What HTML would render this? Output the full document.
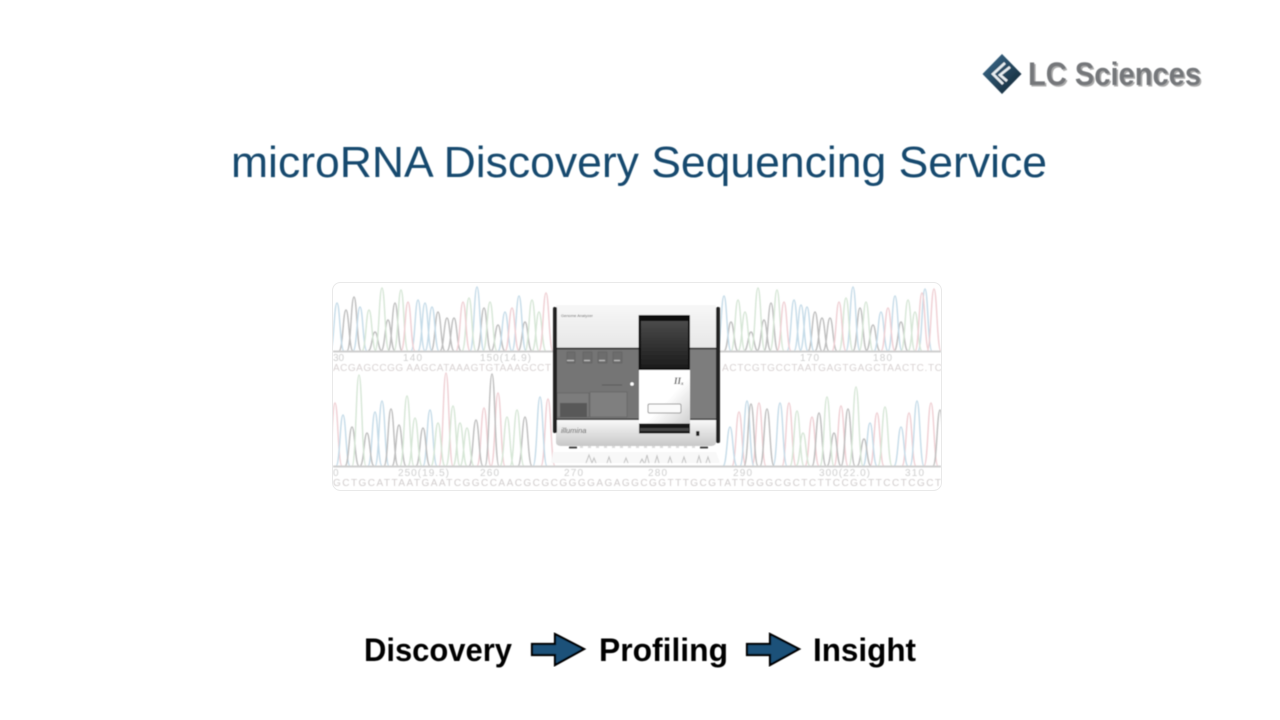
<!DOCTYPE html>
<html><head><meta charset="utf-8"><style>
html,body{margin:0;padding:0;background:#fff;width:1280px;height:720px;overflow:hidden}
svg{display:block}
text{font-family:"Liberation Sans",sans-serif}
</style></head><body>
<svg width="1280" height="720" viewBox="0 0 1280 720" xmlns="http://www.w3.org/2000/svg">
<defs>
<filter id="b" x="-5%" y="-5%" width="110%" height="110%"><feGaussianBlur stdDeviation="0.45"/></filter>
<filter id="b2" x="-5%" y="-5%" width="110%" height="110%"><feGaussianBlur stdDeviation="0.6"/></filter>
<clipPath id="c"><rect x="333" y="283" width="608" height="207" rx="8"/></clipPath>
<linearGradient id="top" x1="0" y1="0" x2="0" y2="1"><stop offset="0" stop-color="#f7f7f7"/><stop offset="1" stop-color="#e6e6e6"/></linearGradient>
<linearGradient id="bot" x1="0" y1="0" x2="0" y2="1"><stop offset="0" stop-color="#f8f8f8"/><stop offset="1" stop-color="#c8c8c8"/></linearGradient>
<linearGradient id="scr" x1="0" y1="0" x2="0" y2="1"><stop offset="0" stop-color="#4a4a4a"/><stop offset="1" stop-color="#1c1c1c"/></linearGradient>
<linearGradient id="wh" x1="0" y1="0" x2="1" y2="1"><stop offset="0.55" stop-color="#fff"/><stop offset="1" stop-color="#cfcfcf"/></linearGradient>
<linearGradient id="dia" x1="0" y1="0" x2="1" y2="1"><stop offset="0" stop-color="#3d6f92"/><stop offset="1" stop-color="#10222f"/></linearGradient>
</defs>

<!-- logo -->
<g filter="url(#b)">
<path d="M1002 54L1021.500 74L1002 94L982.500 74Z" fill="url(#dia)"/>
<path d="M1005 63L993 74L1003 84M1010 67L1000 75L1007 81" fill="none" stroke="#e8eef2" stroke-width="2.600"/>
<text x="1029.500" y="86.500" font-size="32" font-weight="700" fill="#aaa" textLength="173" lengthAdjust="spacingAndGlyphs">LC Sciences</text>
<text x="1028" y="85" font-size="32" font-weight="700" fill="#75777a" textLength="173" lengthAdjust="spacingAndGlyphs">LC Sciences</text>
</g>

<!-- title -->
<text x="231" y="177" font-size="44" fill="#174a6e" textLength="816" lengthAdjust="spacingAndGlyphs" filter="url(#b)">microRNA Discovery Sequencing Service</text>

<!-- chromatogram -->
<rect x="332.500" y="282.500" width="609" height="208" rx="8" fill="#fff" stroke="#e9e9e9"/>
<g clip-path="url(#c)">
<g filter="url(#b)" fill="none" stroke-width="1.400">
<path stroke="#bdbdbd" d="M339 351c4 0 4-41 7-41s3 41 7 41M347 351c4 0 4-54 7-54s3 54 7 54M368 351c4 0 4-19 7-19s3 19 7 19M381 351c4 0 4-31 7-31s3 31 7 31M388 351c4 0 4-48 7-48s3 48 7 48M431 351c4 0 4-39 7-39s3 39 7 39M440 351c4 0 4-33 7-33s3 33 7 33M447 351c4 0 4-33 7-33s3 33 7 33M477 351c4 0 4-43 7-43s3 43 7 43M491 351c4 0 4-26 7-26s3 26 7 26M518 351c4 0 4-29 7-29s3 29 7 29M724 351c4 0 4-29 7-29s3 29 7 29M744 351c4 0 4-19 7-19s3 19 7 19M757 351c4 0 4-31 7-31s3 31 7 31M764 351c4 0 4-48 7-48s3 48 7 48M808 351c4 0 4-39 7-39s3 39 7 39M815 351c4 0 4-33 7-33s3 33 7 33M823 351c4 0 4-33 7-33s3 33 7 33M853 351c4 0 4-43 7-43s3 43 7 43M866 351c4 0 4-26 7-26s3 26 7 26M894 351c4 0 4-29 7-29s3 29 7 29"/>
<path stroke="#c5dbe8" d="M330 351c4 0 4-48 7-48s3 48 7 48M353 351c4 0 4-44 7-44s3 44 7 44M411 351c4 0 4-51 7-51s3 51 7 51M418 351c4 0 4-48 7-48s3 48 7 48M425 351c4 0 4-44 7-44s3 44 7 44M470 351c4 0 4-64 7-64s3 64 7 64M498 351c4 0 4-39 7-39s3 39 7 39M512 351c4 0 4-55 7-55s3 55 7 55M717 351c4 0 4-55 7-55s3 55 7 55M787 351c4 0 4-51 7-51s3 51 7 51M794 351c4 0 4-46 7-46s3 46 7 46M800 351c4 0 4-44 7-44s3 44 7 44M846 351c4 0 4-64 7-64s3 64 7 64M874 351c4 0 4-39 7-39s3 39 7 39M888 351c4 0 4-55 7-55s3 55 7 55M918 351c4 0 4-62 7-62s3 62 7 62"/>
<path stroke="#d6e6d6" d="M362 351c4 0 4-41 7-41s3 41 7 41M375 351c4 0 4-63 7-63s3 63 7 63M394 351c4 0 4-61 7-61s3 61 7 61M462 351c4 0 4-53 7-53s3 53 7 53M483 351c4 0 4-49 7-49s3 49 7 49M525 351c4 0 4-51 7-51s3 51 7 51M532 351c4 0 4-39 7-39s3 39 7 39M731 351c4 0 4-51 7-51s3 51 7 51M738 351c4 0 4-39 7-39s3 39 7 39M751 351c4 0 4-63 7-63s3 63 7 63M770 351c4 0 4-61 7-61s3 61 7 61M839 351c4 0 4-53 7-53s3 53 7 53M859 351c4 0 4-49 7-49s3 49 7 49M901 351c4 0 4-51 7-51s3 51 7 51M908 351c4 0 4-39 7-39s3 39 7 39"/>
<path stroke="#efcfd3" d="M401 351c4 0 4-49 7-49s3 49 7 49M456 351c4 0 4-49 7-49s3 49 7 49M505 351c4 0 4-43 7-43s3 43 7 43M539 351c4 0 4-58 7-58s3 58 7 58M777 351c4 0 4-49 7-49s3 49 7 49M832 351c4 0 4-49 7-49s3 49 7 49M881 351c4 0 4-43 7-43s3 43 7 43M915 351c4 0 4-58 7-58s3 58 7 58M927 351c4 0 4-62 7-62s3 62 7 62"/>

<path stroke="#efcfd3" d="M328 466c4 0 4-63 7-63s3 63 7 63M439 466c4 0 4-93 7-93s3 93 7 93M477 466c4 0 4-58 7-58s3 58 7 58M491 466c4 0 4-73 7-73s3 73 7 73M541 466c4 0 4-67 7-67s3 67 7 67M732 466c4 0 4-54 7-54s3 54 7 54M752 466c4 0 4-63 7-63s3 63 7 63M782 466c4 0 4-63 7-63s3 63 7 63M805 466c4 0 4-49 7-49s3 49 7 49M834 466c4 0 4-60 7-60s3 60 7 60M870 466c4 0 4-53 7-53s3 53 7 53M902 466c4 0 4-53 7-53s3 53 7 53M924 466c4 0 4-63 7-63s3 63 7 63"/>
<path stroke="#c5dbe8" d="M336 466c4 0 4-51 7-51s3 51 7 51M368 466c4 0 4-54 7-54s3 54 7 54M375 466c4 0 4-65 7-65s3 65 7 65M423 466c4 0 4-56 7-56s3 56 7 56M533 466c4 0 4-69 7-69s3 69 7 69M723 466c4 0 4-39 7-39s3 39 7 39M740 466c4 0 4-65 7-65s3 65 7 65M773 466c4 0 4-63 7-63s3 63 7 63M863 466c4 0 4-43 7-43s3 43 7 43M894 466c4 0 4-39 7-39s3 39 7 39M910 466c4 0 4-65 7-65s3 65 7 65"/>
<path stroke="#bdbdbd" d="M345 466c4 0 4-39 7-39s3 39 7 39M360 466c4 0 4-33 7-33s3 33 7 33M384 466c4 0 4-57 7-57s3 57 7 57M392 466c4 0 4-41 7-41s3 41 7 41M416 466c4 0 4-38 7-38s3 38 7 38M469 466c4 0 4-46 7-46s3 46 7 46M485 466c4 0 4-92 7-92s3 92 7 92M518 466c4 0 4-49 7-49s3 49 7 49M744 466c4 0 4-62 7-62s3 62 7 62M760 466c4 0 4-57 7-57s3 57 7 57M812 466c4 0 4-53 7-53s3 53 7 53M827 466c4 0 4-33 7-33s3 33 7 33M841 466c4 0 4-57 7-57s3 57 7 57M857 466c4 0 4-27 7-27s3 27 7 27M933 466c4 0 4-56 7-56s3 56 7 56"/>
<path stroke="#d6e6d6" d="M352 466c4 0 4-91 7-91s3 91 7 91M400 466c4 0 4-70 7-70s3 70 7 70M408 466c4 0 4-48 7-48s3 48 7 48M431 466c4 0 4-43 7-43s3 43 7 43M446 466c4 0 4-60 7-60s3 60 7 60M453 466c4 0 4-43 7-43s3 43 7 43M460 466c4 0 4-38 7-38s3 38 7 38M500 466c4 0 4-49 7-49s3 49 7 49M510 466c4 0 4-56 7-56s3 56 7 56M790 466c4 0 4-55 7-55s3 55 7 55M796 466c4 0 4-33 7-33s3 33 7 33M820 466c4 0 4-69 7-69s3 69 7 69M849 466c4 0 4-79 7-79s3 79 7 79M878 466c4 0 4-59 7-59s3 59 7 59"/>
<path stroke="#cfcfcf" stroke-width="2" d="M333 351.500H941M333 466.500H941"/>
</g>
<g filter="url(#b)" font-size="10" fill="#cfcfcf" style="font-family:'Liberation Mono',monospace">
<text x="333" y="361">30</text>
<text x="403" y="361" textLength="19">140</text>
<text x="480" y="361" textLength="51">150(14.9)</text>
<text x="800" y="361" textLength="19">170</text>
<text x="873" y="361" textLength="19">180</text>
<text x="333" y="476">0</text>
<text x="398" y="476" textLength="51">250(19.5)</text>
<text x="480" y="476" textLength="19">260</text>
<text x="564" y="476" textLength="19">270</text>
<text x="648" y="476" textLength="19">280</text>
<text x="733" y="476" textLength="19">290</text>
<text x="819" y="476" textLength="51">300(22.0)</text>
<text x="905" y="476" textLength="19">310</text>
<text x="333" y="371" textLength="218" fill="#d8d2d2">ACGAGCCGG AAGCATAAAGTGTAAAGCCT</text>
<text x="722" y="371" textLength="220" fill="#d8d2d2">ACTCGTGCCTAATGAGTGAGCTAACTC.TC</text>
<text x="333" y="486" textLength="608" fill="#d0cccc">GCTGCATTAATGAATCGGCCAACGCGCGGGGAGAGGCGGTTTGCGTATTGGGCGCTCTTCCGCTTCCTCGCT</text>
</g>
</g>

<!-- instrument -->
<g filter="url(#b2)">
<rect x="556" y="305" width="160" height="44" fill="url(#top)"/>
<rect x="556" y="348" width="160" height="72" fill="#757575"/>
<rect x="690" y="349" width="26" height="70" fill="#7d7d7d"/>
<rect x="590" y="392" width="37" height="25" fill="#7f7f7f" stroke="#626262" stroke-width=".6"/>
<rect x="557" y="393" width="32" height="24" fill="#7b7b7b" stroke="#626262" stroke-width=".6"/>
<rect x="560" y="403" width="27" height="14" fill="#585858"/>
<path d="M567 352h8v11h-8zM583 352h9v11h-9zM598 352h9v11h-9zM613 352h9v11h-9z" fill="#6d6d6d" stroke="#5f5f5f" stroke-width=".5"/>
<path d="M567 360.500h7M584 360.500h6M599 360.500h6M614 360.500h6" stroke="#c0c0c0" stroke-width="1.200" fill="none"/>
<circle cx="632" cy="384" r="1.800" fill="#fff"/>
<path d="M602 385h20" stroke="#555" stroke-width=".8"/>
<path d="M556 348.500H716M556 419.500H716" stroke="#1a1a1a" stroke-width="1.400"/>
<path d="M556 420H716V442Q716 446 710 446H562Q556 446 556 442Z" fill="url(#bot)"/>
<rect x="553" y="307" width="4" height="126" rx="1.500" fill="#222"/>
<rect x="716" y="307" width="4" height="136" rx="1.500" fill="#222"/>
<rect x="639" y="370" width="51" height="54" fill="url(#wh)"/>
<rect x="638.500" y="315" width="51.500" height="55" rx="1" fill="#0e0e0e"/>
<rect x="641" y="321" width="47" height="47" fill="url(#scr)"/>
<rect x="639" y="423.500" width="51" height="10" fill="#151515"/>
<rect x="640" y="428" width="49" height="3" fill="#444"/>
<rect x="648" y="404" width="33" height="9" rx="1.500" fill="#fbfbfb" stroke="#9a9a9a" stroke-width="1"/>
<rect x="696" y="431" width="3.500" height="5" rx="1" fill="#222"/>
<path d="M569 447.500h8M700 447.500h8" stroke="#444" stroke-width="2"/>
<path d="M580 447h118" stroke="#dcdcdc" stroke-width="2" stroke-dasharray="3 5"/>
<path d="M553 452L716 452L720 463H551Z" fill="#f8f8f8"/>
<path d="M586 463l3-8 3 8M592 463l2-5 2 5M607 463l2-6 2 6M624 463l2-5 2 5M640 463l2-4 2 4M645 463l2-8 2 8M655 463l2-7 2 7M668 463l2-6 2 6M682 463l2-6 2 6M697 463l2-7 2 7M706 463l2-6 2 6" fill="none" stroke="#c0c0c0" stroke-width="1"/>
<text x="561" y="317" font-size="4" fill="#666">Genome Analyzer</text>
<text x="561" y="433" font-size="7.500" font-style="italic" fill="#555">illumina</text>
<text x="674" y="384" font-size="9" font-style="italic" font-weight="700" fill="#555" style="font-family:'Liberation Serif',serif">II<tspan font-size="5" dy="1">x</tspan></text>
</g>

<!-- bottom row -->
<g font-size="32" font-weight="700" fill="#000" filter="url(#b)">
<text x="364" y="661" textLength="148" lengthAdjust="spacingAndGlyphs">Discovery</text>
<text x="599" y="661" textLength="129" lengthAdjust="spacingAndGlyphs">Profiling</text>
<text x="813" y="661" textLength="103" lengthAdjust="spacingAndGlyphs">Insight</text>
</g>
<g filter="url(#b)">
<path d="M532 644H555V634L584 649L555 665V655H532Z" fill="#1d5179" stroke="#050505" stroke-width="2.200" stroke-linejoin="miter"/>
<path d="M747 644H770V634L799 649L770 665V655H747Z" fill="#1d5179" stroke="#050505" stroke-width="2.200" stroke-linejoin="miter"/>
</g>
</svg>
</body></html>
